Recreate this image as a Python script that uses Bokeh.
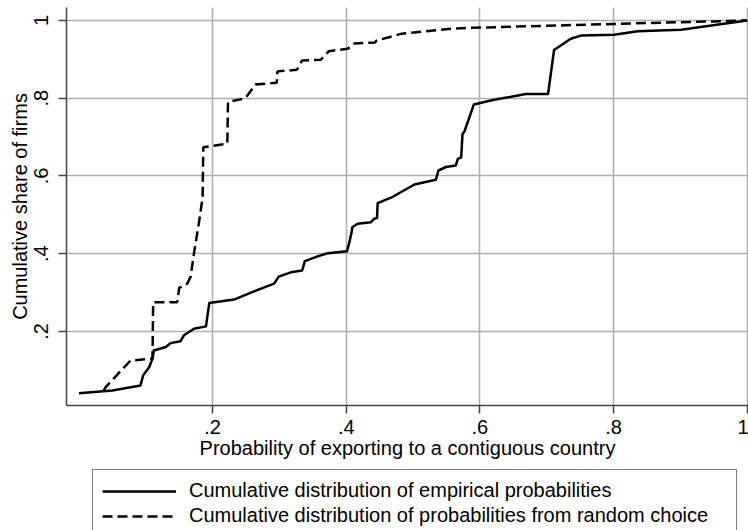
from bokeh.plotting import figure
from bokeh.layouts import column
from bokeh.models import Range1d, FixedTicker, Legend, LegendItem
from bokeh.embed import file_html
from bokeh.resources import INLINE

# Empirical probabilities (solid line)
emp_x = [0.000, 0.050, 0.092, 0.096, 0.105, 0.110, 0.112, 0.130, 0.137, 0.152,
         0.157, 0.172, 0.190, 0.192, 0.195, 0.232, 0.262, 0.292, 0.299, 0.317,
         0.334, 0.338, 0.357, 0.372, 0.401, 0.404, 0.408, 0.409, 0.417, 0.437,
         0.442, 0.446, 0.447, 0.467, 0.502, 0.534, 0.538, 0.549, 0.564, 0.567,
         0.572, 0.574, 0.577, 0.591, 0.613, 0.627, 0.645, 0.669, 0.702, 0.711,
         0.736, 0.751, 0.801, 0.836, 0.901, 1.000]
emp_y = [0.041, 0.048, 0.061, 0.087, 0.108, 0.130, 0.151, 0.160, 0.170, 0.175,
         0.190, 0.207, 0.213, 0.237, 0.273, 0.282, 0.303, 0.323, 0.341, 0.352,
         0.357, 0.381, 0.393, 0.401, 0.406, 0.425, 0.455, 0.468, 0.477, 0.481,
         0.490, 0.492, 0.530, 0.544, 0.578, 0.590, 0.614, 0.623, 0.627, 0.644,
         0.648, 0.708, 0.715, 0.784, 0.793, 0.798, 0.803, 0.811, 0.811, 0.924,
         0.953, 0.961, 0.963, 0.972, 0.976, 1.000]

# Probabilities from random choice (dashed line)
rnd_x = [0.037, 0.040, 0.077, 0.110, 0.111, 0.147, 0.150, 0.162, 0.167, 0.172,
         0.180, 0.185, 0.186, 0.222, 0.223, 0.249, 0.264, 0.296, 0.297, 0.326,
         0.334, 0.362, 0.374, 0.402, 0.412, 0.443, 0.445, 0.483, 0.558, 0.586,
         0.801, 1.000]
rnd_y = [0.048, 0.057, 0.125, 0.130, 0.275, 0.275, 0.312, 0.323, 0.340, 0.400,
         0.485, 0.545, 0.674, 0.683, 0.790, 0.800, 0.835, 0.840, 0.869, 0.873,
         0.897, 0.899, 0.921, 0.927, 0.941, 0.943, 0.948, 0.966, 0.979, 0.981,
         0.991, 1.000]

tick_values = [0.2, 0.4, 0.6, 0.8, 1.0]
tick_labels = [".2", ".4", ".6", ".8", "1"]

x_title = "Probability of exporting to a contiguous country"
y_title = "Cumulative share of firms"
legend_labels = ["Cumulative distribution of empirical probabilities",
                 "Cumulative distribution of probabilities from random choice"]

FONT = "Liberation Sans"
FS = "20px"
DASH = "10 5"

p = figure(width=748, height=466, output_backend="svg", toolbar_location=None,
           x_range=Range1d(-0.0187, 1.002), y_range=Range1d(0.0095, 1.0333),
           min_border_left=66, min_border_right=0, min_border_top=7,
           min_border_bottom=61, background_fill_color="white",
           border_fill_color="white")
p.outline_line_color = None

p.line(emp_x, emp_y, line_color="black", line_width=2.5, line_join="round")
p.line(rnd_x, rnd_y, line_color="black", line_width=2.5, line_dash=DASH)

labels = dict(zip(tick_values, tick_labels))
for ax in (p.xaxis[0], p.yaxis[0]):
    ax.ticker = FixedTicker(ticks=tick_values)
    ax.major_label_overrides = labels
    ax.minor_tick_line_color = None
    ax.major_tick_in = 0
    ax.major_tick_out = 8
    ax.major_tick_line_color = "#444444"
    ax.major_tick_line_width = 1.5
    ax.axis_line_color = "#444444"
    ax.axis_line_width = 1.5
    ax.major_label_text_font = FONT
    ax.major_label_text_font_size = FS
    ax.major_label_text_color = "black"
    ax.axis_label_text_font = FONT
    ax.axis_label_text_font_size = FS
    ax.axis_label_text_font_style = "normal"
    ax.axis_label_text_color = "black"

p.xaxis.axis_label = x_title
p.yaxis.axis_label = y_title
p.xaxis.major_label_standoff = 6
p.xaxis.axis_label_standoff = 0
p.yaxis.major_label_standoff = 10
p.yaxis.axis_label_standoff = 1
p.yaxis.major_label_orientation = "vertical"

for g in (p.xgrid[0], p.ygrid[0]):
    g.ticker = FixedTicker(ticks=tick_values)
    g.grid_line_color = "#b0b0b0"
    g.grid_line_width = 1.6

# Legend strip below the plot (its frame is aligned with the main frame)
p2 = figure(width=748, height=64, output_backend="svg", toolbar_location=None,
            x_axis_type=None, y_axis_type=None,
            min_border_left=0, min_border_right=0, min_border_top=0,
            min_border_bottom=0, background_fill_color="white",
            border_fill_color="white")
p2.outline_line_color = None
p2.grid.visible = False
k1 = p2.line(emp_x, emp_y, line_color="black", line_width=2.5, visible=False)
k2 = p2.line(rnd_x, rnd_y, line_color="black", line_width=2.5,
             line_dash=DASH, visible=False)

legend = Legend(items=[LegendItem(label=legend_labels[0], renderers=[k1]),
                       LegendItem(label=legend_labels[1], renderers=[k2])],
                location=(26, -7), orientation="vertical",
                label_text_font=FONT, label_text_font_size=FS,
                label_text_color="black",
                glyph_width=74, glyph_height=20, label_standoff=13,
                padding=9, spacing=2, margin=0, label_width=538,
                border_line_color="black", border_line_width=1.5,
                background_fill_color="white", background_fill_alpha=1.0)
p2.add_layout(legend, "center")

open("out.html", "w").write(file_html(column(p, p2, spacing=0), INLINE))
